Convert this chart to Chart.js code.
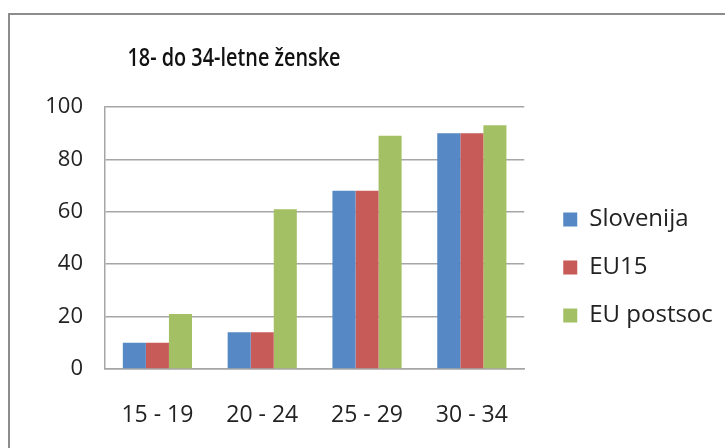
<!DOCTYPE html>
<html>
<head>
<meta charset="utf-8">
<script src="https://cdn.jsdelivr.net/npm/chart.js@4/dist/chart.umd.min.js"></script>
<style>
    html, body { margin: 0; padding: 0; background: #fff; overflow: hidden; }
    #wrap { position: relative; width: 725px; height: 448px; overflow: hidden; }
    #frame { position: absolute; left: 8px; top: 13px; width: 800px; height: 500px; border: 2px solid #8c8c8c; box-sizing: border-box; }
    #chart { position: absolute; left: 0; top: 0; }
</style>
</head>
<body>
<div id="wrap">
    <div id="frame"></div>
    <canvas id="chart" width="725" height="448"></canvas>
</div>
<script>
// Chart data
const titleText = '18- do 34-letne ženske';
const categories = ['15 - 19', '20 - 24', '25 - 29', '30 - 34'];
const slovenija = [10, 14, 68, 90];
const eu15 = [10, 14, 68, 90];
const euPostsoc = [21, 61, 89, 93];
const yTicks = [0, 20, 40, 60, 80, 100];

const fontFamily = '"Open Sans", "Noto Sans", sans-serif';

// Title drawn at the same spot as in the Excel chart (left of centre),
// squeezed a bit to get close to the narrow Calibri look
const fixedTitle = {
    id: 'fixedTitle',
    afterDraw(chart) {
        const ctx = chart.ctx;
        ctx.save();
        ctx.font = '600 25px ' + fontFamily;
        const w = ctx.measureText(titleText).width;
        const sx = Math.min(1, 213 / w);
        ctx.translate(234, 66);
        ctx.scale(sx, 1);
        ctx.fillStyle = '#111';
        ctx.textAlign = 'center';
        ctx.textBaseline = 'alphabetic';
        ctx.fillText(titleText, 0, 0);
        ctx.restore();
    }
};

// Moves the legend a little away from the plot, as in the original
const legendGap = {
    id: 'legendGap',
    afterLayout(chart) {
        if (chart.legend) {
            chart.legend.left += 15;
            chart.legend.right += 15;
        }
    }
};

function createChart() {
    const ctx = document.getElementById('chart').getContext('2d');
    new Chart(ctx, {
        type: 'bar',
        data: {
            labels: categories,
            datasets: [{
                label: 'Slovenija',
                data: slovenija,
                backgroundColor: '#5588c4'
            }, {
                label: 'EU15',
                data: eu15,
                backgroundColor: '#c75b58'
            }, {
                label: 'EU postsoc',
                data: euPostsoc,
                backgroundColor: '#a3c164'
            }]
        },
        options: {
            responsive: false,
            animation: false,
            layout: {
                padding: { top: 107, left: 0, right: 26, bottom: 20 }
            },
            datasets: {
                bar: { categoryPercentage: 0.66, barPercentage: 1 }
            },
            scales: {
                x: {
                    grid: { display: false },
                    border: { color: '#a6a6a6', width: 1.5 },
                    ticks: { font: { family: fontFamily, size: 23 }, color: '#222', padding: 25 },
                    afterFit: scale => { scale.height = 59; }
                },
                y: {
                    min: 0,
                    max: 100,
                    afterBuildTicks: scale => { scale.ticks = yTicks.map(v => ({ value: v })); },
                    grid: { color: '#a6a6a6', lineWidth: 1.5, drawTicks: false },
                    border: { color: '#a6a6a6', width: 1.5 },
                    ticks: { font: { family: fontFamily, size: 22 }, color: '#222', padding: 22 },
                    afterFit: scale => { scale.width = 105; }
                }
            },
            plugins: {
                title: { display: false },
                tooltip: { enabled: false },
                legend: {
                    position: 'right',
                    labels: {
                        font: { family: fontFamily, size: 24 },
                        color: '#222',
                        boxWidth: 14,
                        boxHeight: 14,
                        padding: 24
                    }
                }
            }
        },
        plugins: [fixedTitle, legendGap]
    });
}

window.onload = createChart;
</script>
</body>
</html>
